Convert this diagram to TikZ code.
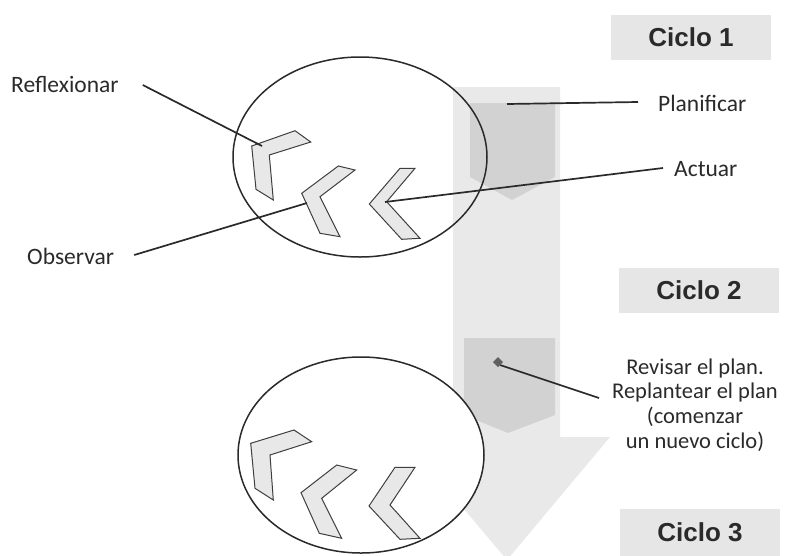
\documentclass[tikz,border=0pt]{standalone}
\usepackage{fontspec}
\setmainfont{Carlito}
\newfontfamily\cicfont{Liberation Sans}
\definecolor{ink}{HTML}{2A2A2A}
\definecolor{bandgray}{HTML}{E9E9E9}
\definecolor{pentgray}{HTML}{D2D2D2}
\definecolor{boxgray}{HTML}{E6E6E6}
\definecolor{chevfill}{HTML}{E8E8E8}
\tikzset{
  lbl/.style={inner sep=0pt, text=ink, font=\fontsize{23.5}{25}\selectfont},
  revlbl/.style={inner sep=0pt, text=ink, font=\fontsize{22.5}{24.7}\selectfont},
  ciclo/.style={fill=boxgray, draw=none, minimum width=160pt, minimum height=45pt, inner sep=0pt, text=ink, font=\cicfont\bfseries\fontsize{26}{28}\selectfont},
  leader/.style={draw=ink, line width=1.7pt},
  oval/.style={draw=ink, line width=1.5pt},
  chev/.style={draw=ink!90, fill=chevfill, line width=1pt, line join=miter},
}
\begin{document}
\begin{tikzpicture}[x=1pt,y=-1pt]
\useasboundingbox (0,0) rectangle (792,555);
% big band with arrow head
\fill[bandgray] (453,87) -- (560,87) -- (560,437) -- (610,437) -- (507,560) -- (403,437) -- (453,437) -- cycle;
% darker pentagons
\fill[pentgray] (470,103) -- (555,103) -- (555,177) -- (512,200) -- (470,177) -- cycle;
\fill[pentgray] (464,338) -- (555,338) -- (555,415) -- (508,433) -- (464,415) -- cycle;
% cycle boxes
\node[ciclo] (c1) at (691,37) {Ciclo 1};
\node[ciclo] (c2) at (699,290) {Ciclo 2};
\node[ciclo, minimum height=47pt] (c3) at (700,532) {Ciclo 3};
% ellipses
\draw[oval] (360,157) ellipse [x radius=127, y radius=100];
\draw[oval, fill=white] (361,455) ellipse [x radius=123, y radius=98];
% chevrons cycle 1
\draw[chev] (251.7,146) -- (295,130.7) -- (310.7,142) -- (269.3,155) -- (273.3,200) -- (256,189.3) -- cycle;
\draw[chev] (301.7,193.3) -- (338.3,166) -- (355,170) -- (320,196.7) -- (340,236.7) -- (320,233.3) -- cycle;
\draw[chev] (369.3,204) -- (400,168.3) -- (415,168.3) -- (386.7,201.7) -- (420,238.3) -- (401.7,239.3) -- cycle;
% chevrons cycle 2
\draw[chev] (250.7,443.3) -- (294,430) -- (311.7,441.7) -- (270,455) -- (273.3,500) -- (255,488.3) -- cycle;
\draw[chev] (301,492.7) -- (336.7,465) -- (356.7,470) -- (321.7,498.3) -- (341.7,538.3) -- (319.3,533.3) -- cycle;
\draw[chev] (369,506) -- (395,467.3) -- (415,467.3) -- (390,505) -- (420,538.3) -- (400,539.3) -- cycle;
% labels
\node[lbl, anchor=west] (refl) at (11,84) {Reflexionar};
\node[lbl, anchor=west] (obs) at (27,256) {Observar};
\node[lbl, anchor=west] (plan) at (658,103) {Planificar};
\node[lbl, anchor=west] (act) at (674,169) {Actuar};
\node[revlbl, align=center] (rev) at (695,405) {Revisar el plan.\\Replantear el plan\\(comenzar\\un nuevo ciclo)};
% anchor points on the drawing
\coordinate (reflend) at (262,146);
\coordinate (obsend) at (307,203);
\coordinate (planend) at (507,104);
\coordinate (actend) at (385,202);
\coordinate (revend) at (500,365);
% leaders
\draw[leader] ([xshift=24pt,yshift=-1pt]refl.east) -- (reflend);
\draw[leader] ([xshift=20pt,yshift=1pt]obs.east) -- (obsend);
\draw[leader] ([xshift=-20pt,yshift=1pt]plan.west) -- (planend);
\draw[leader] ([xshift=-11pt,yshift=1pt]act.west) -- (actend);
\draw[leader] ([xshift=-13pt]rev.west |- 0,398) -- (revend);
\fill[gray!75!black] (revend) ++(-7,-3) -- ++(5,-5) -- ++(5,5) -- ++(-5,5) -- cycle;
\end{tikzpicture}
\end{document}
